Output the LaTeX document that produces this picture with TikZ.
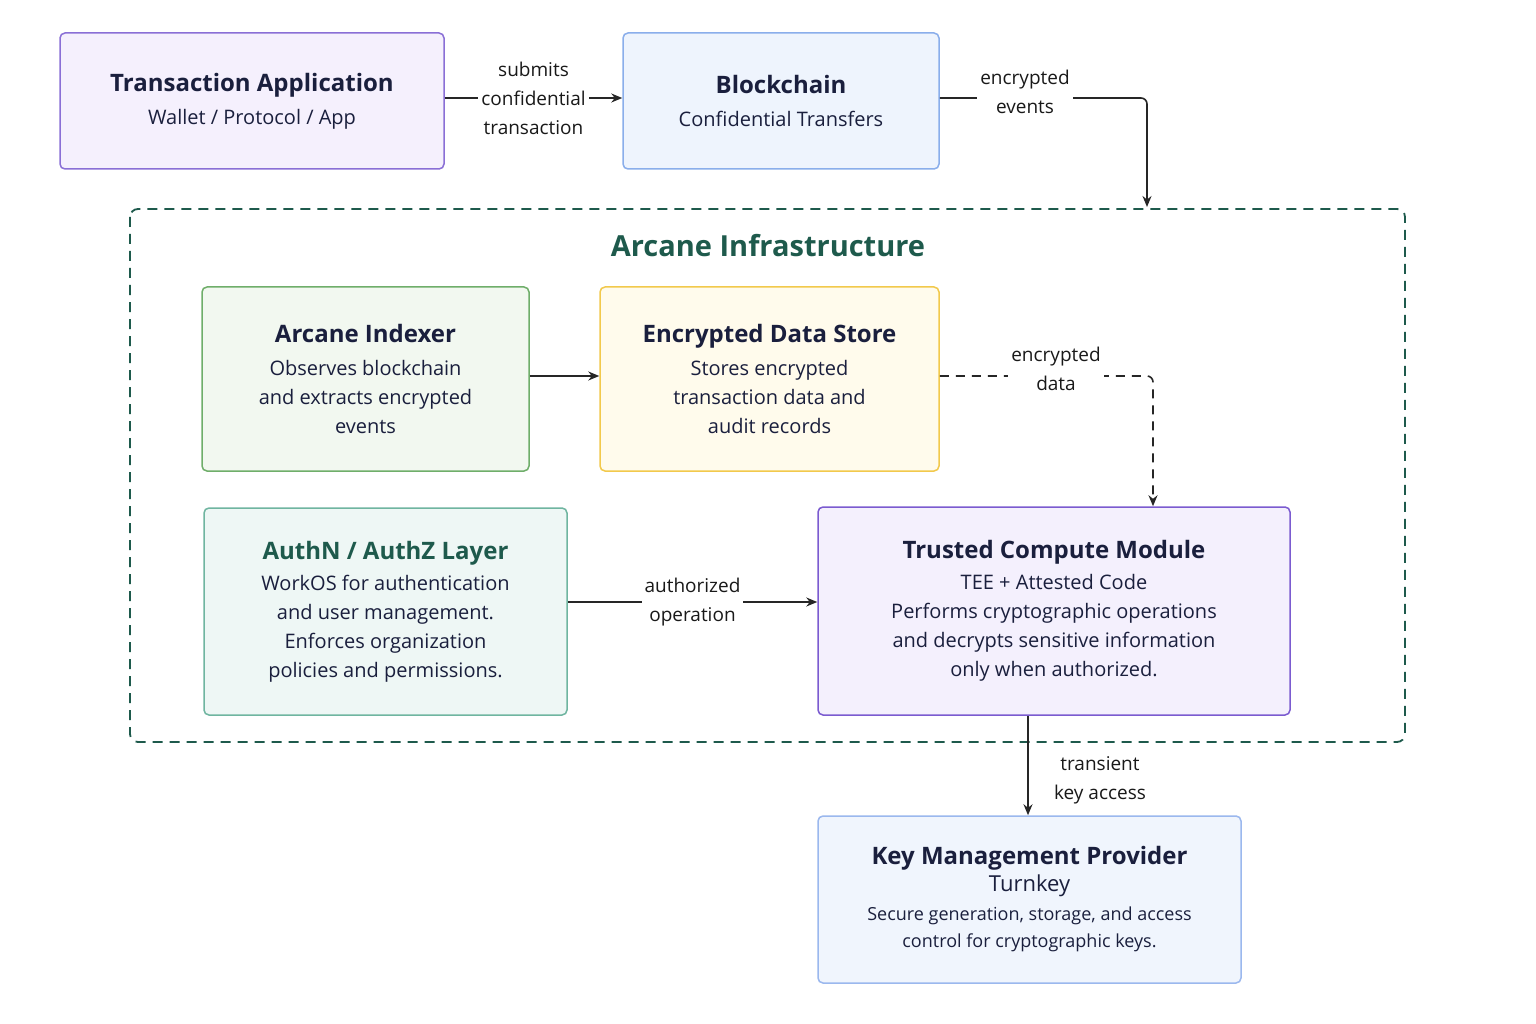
\documentclass[tikz,border=0pt]{standalone}
\usepackage{fontspec}
\setmainfont{Open Sans}
\usetikzlibrary{arrows.meta,positioning}
\definecolor{tdark}{HTML}{1A1F3D}
\definecolor{cgreen}{HTML}{1E5A4C}
\definecolor{fA}{HTML}{F5F0FD}\definecolor{dA}{HTML}{8A6FD6}
\definecolor{fB}{HTML}{EEF4FD}\definecolor{dB}{HTML}{8AAEEB}
\definecolor{fC}{HTML}{F2F8F0}\definecolor{dC}{HTML}{6FAE6A}
\definecolor{fD}{HTML}{FFFBEC}\definecolor{dD}{HTML}{F2C94C}
\definecolor{fE}{HTML}{EEF7F5}\definecolor{dE}{HTML}{6FB5A0}
\definecolor{fF}{HTML}{F4F0FD}\definecolor{dF}{HTML}{7B5BD0}
\definecolor{fG}{HTML}{F0F5FD}\definecolor{dG}{HTML}{9BB8EE}
\newcommand\ttl{\fontsize{24}{32}\selectfont\bfseries}
\tikzset{
  box/.style={draw, rounded corners=5pt, line width=1.5pt, align=center, text=tdark, font=\fontsize{20}{29}\selectfont},
  conn/.style={line width=1.6pt, draw=black!85, -{Stealth[length=11pt,width=9pt]}},
  lbl/.style={fill=white, align=center, font=\fontsize{19}{29}\selectfont, text=black!90, inner sep=3pt}
}
\begin{document}
\begin{tikzpicture}[x=1pt,y=-1pt]
\useasboundingbox[fill=white] (0,0) rectangle (1536,1024);
% container
\draw[cgreen, line width=1.8pt, dash pattern=on 10pt off 7pt, rounded corners=8pt] (130,209) rectangle (1405,742);
\node[text=cgreen, font=\fontsize{29}{34}\selectfont\bfseries] (title) at (768,246) {Arcane Infrastructure};
% boxes
\node[box, fill=fA, draw=dA, minimum width=384pt, minimum height=136pt] (app) at (252,101)
 {{\ttl Transaction Application}\\[4pt] Wallet / Protocol / App};
\node[box, fill=fB, draw=dB, minimum width=316pt, minimum height=136pt] (bc) at (781,101)
 {{\ttl Blockchain}\\[4pt] Confidential Transfers};
\node[box, fill=fC, draw=dC, minimum width=327pt, minimum height=184pt] (idx) at (365.5,379)
 {{\ttl Arcane Indexer}\\[4pt] Observes blockchain\\ and extracts encrypted\\ events};
\node[box, fill=fD, draw=dD, minimum width=339pt, minimum height=184pt] (eds) at (769.5,379)
 {{\ttl Encrypted Data Store}\\[4pt] Stores encrypted\\ transaction data and\\ audit records};
\node[box, fill=fE, draw=dE, minimum width=363pt, minimum height=207pt] (auth) at (385.5,611.5)
 {{\ttl\color{cgreen} AuthN / AuthZ Layer}\\[2pt] WorkOS for authentication\\ and user management.\\ Enforces organization\\ policies and permissions.};
\node[box, fill=fF, draw=dF, minimum width=472pt, minimum height=208pt] (tcm) at (1054,611)
 {{\ttl Trusted Compute Module}\\[2pt] TEE + Attested Code\\ Performs cryptographic operations\\ and decrypts sensitive information\\ only when authorized.};
\node[box, fill=fG, draw=dG, minimum width=423pt, minimum height=167pt] (kmp) at (1029.5,899.5)
 {{\ttl Key Management Provider}\\[-2pt] {\fontsize{22}{30}\selectfont Turnkey}\\[0pt] {\fontsize{18}{26}\selectfont Secure generation, storage, and access}\\[-2pt] {\fontsize{18}{26}\selectfont control for cryptographic keys.}};
% connectors
\coordinate (c1) at (1147,98);
\coordinate (c2) at (1153,376);
\draw[conn] (app.east |- 0,98) -- node[lbl]{submits\\confidential\\transaction} (bc.west |- 0,98);
\draw[conn, rounded corners=6pt] (bc.east |- 0,98) -- (c1) -- (1147,207);
\node[lbl] (l1) at (1025,92) {encrypted\\events};
\draw[conn] (idx.east |- 0,376) -- (eds.west |- 0,376);
\draw[conn, dash pattern=on 9pt off 7pt, rounded corners=6pt] (eds.east |- 0,376) -- (c2) -- (tcm.north -| c2);
\node[lbl] (l2) at (1056,369) {encrypted\\data};
\draw[conn] (auth.east |- 0,602) -- node[lbl]{authorized\\operation} (tcm.west |- 0,602);
\draw[conn] (tcm.south -| 1028,0) -- (kmp.north -| 1028,0);
\node[lbl, fill=none] (l3) at (1100,780) {transient\\key access};
\end{tikzpicture}
\end{document}
